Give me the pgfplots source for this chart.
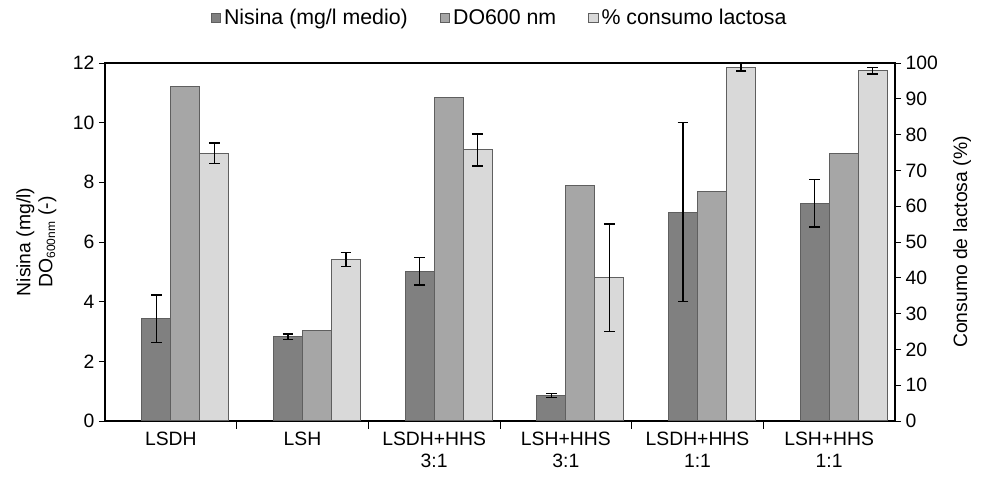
\documentclass[border=0pt]{standalone}
\usepackage{fontspec}
\setmainfont{Liberation Sans}
\usepackage{pgfplots}
\usepackage{pgfplotstable}
\pgfplotsset{compat=1.18}
\definecolor{cdark}{HTML}{808080}
\definecolor{cmid}{HTML}{A6A6A6}
\definecolor{clight}{HTML}{D9D9D9}
\definecolor{cedge}{HTML}{5F5F5F}

\pgfplotstableread{
x y e
0 3.43 0.80
1 2.83 0.09
2 5.02 0.46
3 0.86 0.07
4 7.0 3.0
5 7.3 0.8
}\nisina
\pgfplotstableread{
x y
0 11.2
1 3.05
2 10.85
3 7.9
4 7.7
5 8.97
}\dosei
\pgfplotstableread{
x y e
0 74.8 2.9
1 45.1 2.0
2 75.7 4.5
3 40.0 15.0
4 98.8 1.0
5 97.8 0.9
}\lactosa

\begin{document}
\begin{tikzpicture}
\path[use as bounding box] (-78.75pt,-42pt) rectangle (657pt,315.75pt);
\pgfplotsset{
  every axis/.append style={
    scale only axis, width=592.5pt, height=268.5pt,
    xmin=-0.5, xmax=5.5,
    font=\fontsize{14.5}{16.5}\selectfont,
    /pgf/number format/assume math mode=true,
    tick align=outside,
    major tick length=4.5pt,
    tick style={black, line width=0.7pt},
    axis line style={line width=0.8pt},
  },
  mybar/.style={ybar, bar width=0.22, bar shift=0pt, draw=cedge, line width=0.75pt},
  myerr/.style={error bars/.cd, y dir=both, y explicit,
    error bar style={black, line width=1.1pt},
    error mark options={rotate=90, mark size=4pt, line width=1.1pt, black}},
}
\begin{axis}[
  ymin=0, ymax=12, ytick={0,2,...,12},
  ytick pos=left,
  xtick={0,...,5},
  xticklabels={LSDH, LSH, {LSDH+HHS\\3:1}, {LSH+HHS\\3:1}, {LSDH+HHS\\1:1}, {LSH+HHS\\1:1}},
  xticklabel style={align=center},
  xtick pos=bottom,
  major x tick style={draw=none},
  minor xtick={0.5,1.5,2.5,3.5,4.5},
  minor tick length=6pt,
  minor x tick style={black, line width=0.7pt},
  ylabel={\shortstack{Nisina (mg/l)\\DO$_{\mbox{\fontsize{9}{10}\selectfont 600nm}}$ (-)}},
  ylabel style={at={(axis description cs:0,0.5)}, anchor=south, yshift=33pt},
]
\addplot[mybar, fill=cmid] table[x expr=\thisrow{x}+0.11, y=y]{\dosei};
\addplot[mybar, fill=cdark, myerr] table[x expr=\thisrow{x}-0.11, y=y, y error=e]{\nisina};
\end{axis}
\begin{axis}[
  ymin=0, ymax=100, ytick={0,10,...,100},
  ytick pos=right,
  axis x line=none,
  clip=false,
  ylabel={Consumo de lactosa (\%)},
  ylabel style={at={(axis description cs:1,0.5)}, anchor=north, yshift=-40pt},
  legend columns=3,
  legend style={draw=none, at={(0.5,1.126)}, anchor=center, font=\fontsize{16}{18}\selectfont,
    /tikz/every even column/.append style={column sep=22pt}},
  legend image code/.code={\draw[#1, line width=0.75pt] (-3pt,-3.6pt) rectangle (4.2pt,3.6pt);},
]
\addlegendimage{draw=cedge, fill=cdark}
\addlegendentry{Nisina (mg/l medio)}
\addlegendimage{draw=cedge, fill=cmid}
\addlegendentry{DO600 nm}
\addplot[mybar, fill=clight, myerr] table[x expr=\thisrow{x}+0.33, y=y, y error=e]{\lactosa};
\addlegendentry{\% consumo lactosa}
\end{axis}
\end{tikzpicture}
\end{document}
